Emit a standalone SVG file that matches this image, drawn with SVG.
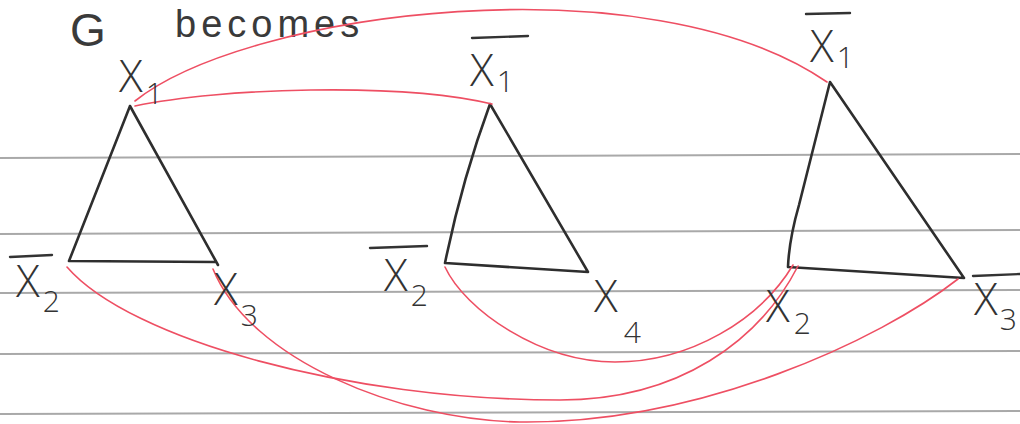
<svg xmlns="http://www.w3.org/2000/svg" width="1020" height="424" viewBox="0 0 1020 424">
<style>
.rule{stroke:#a9a9a9;stroke-width:1.8;fill:none}
.edge{stroke:#2e2e2e;stroke-width:2.6;fill:none;stroke-linecap:round;stroke-linejoin:round}
.red{stroke:#ee4f63;stroke-width:1.6;fill:none;stroke-linecap:round}
.lbl{font-family:"Open Sans","Liberation Sans",sans-serif;font-weight:300;fill:#333;font-size:44px}
.sub{font-size:30px}
.bar{stroke:#333;stroke-width:2.4;stroke-linecap:round}
.title{font-family:"Liberation Sans","DejaVu Sans",sans-serif;fill:#3a3a3a}
</style>
<rect width="1020" height="424" fill="#ffffff"/>
<g id="paper">
<line class="rule" x1="0" y1="158" x2="1020" y2="154"/>
<line class="rule" x1="0" y1="234" x2="1020" y2="230"/>
<line class="rule" x1="0" y1="293" x2="1020" y2="290"/>
<line class="rule" x1="0" y1="354" x2="1020" y2="351"/>
<line class="rule" x1="0" y1="414" x2="1020" y2="411"/>
</g>
<text class="title" x="70" y="46" font-size="46">G</text>
<text class="title" x="175" y="37" font-size="38" letter-spacing="5">becomes</text>
<g id="connectors">
<path class="edge" d="M130,106 L69,261 L215,262 M130,106 L218,265"/>
<path class="edge" d="M490,104 Q462,180 445,263 L588,272 M490,104 L588,272"/>
<path class="edge" d="M830,82 L799,205 Q789,240 788,267 L964,278 M830,82 L964,278"/>
<path class="red" d="M135,101 C250,10 650,-40 827,82"/>
<path class="red" d="M135,106 C220,88 400,82 492,104"/>
<path class="red" d="M67,267 C130,340 350,400 560,400 C680,400 760,340 798,266"/>
<path class="red" d="M445,267 C465,310 540,362 615,362 C690,362 760,320 793,265"/>
<path class="red" d="M213,269 C250,360 400,420 520,422 C700,424 880,340 958,279"/>
</g>
<g id="n-x1"><text class="lbl" x="119" y="92">X<tspan class="sub" dx="3" dy="12">1</tspan></text></g>
<g id="n-x2bar-a"><line class="bar" x1="10" y1="257" x2="52" y2="255"/><text class="lbl" x="16" y="297">X<tspan class="sub" dx="3" dy="15">2</tspan></text></g>
<g id="n-x3-a"><text class="lbl" x="214" y="305">X<tspan class="sub" dx="3" dy="21">3</tspan></text></g>
<g id="n-x1bar-b"><line class="bar" x1="472" y1="38" x2="528" y2="36"/><text class="lbl" x="470" y="86">X<tspan class="sub" dx="3" dy="6">1</tspan></text></g>
<g id="n-x2bar-b"><line class="bar" x1="370" y1="248" x2="427" y2="246"/><text class="lbl" x="384" y="291">X<tspan class="sub" dx="3" dy="15">2</tspan></text></g>
<g id="n-x4"><text class="lbl" x="594" y="312">X<tspan class="sub" dx="6" dy="31">4</tspan></text></g>
<g id="n-x1bar-c"><line class="bar" x1="806" y1="14" x2="850" y2="13"/><text class="lbl" x="810" y="62">X<tspan class="sub" dx="3" dy="6">1</tspan></text></g>
<g id="n-x2-c"><text class="lbl" x="766" y="322">X<tspan class="sub" dx="4" dy="12">2</tspan></text></g>
<g id="n-x3bar-c"><line class="bar" x1="973" y1="276" x2="1020" y2="274"/><text class="lbl" x="974" y="315">X<tspan class="sub" dx="2" dy="15">3</tspan></text></g>
</svg>
